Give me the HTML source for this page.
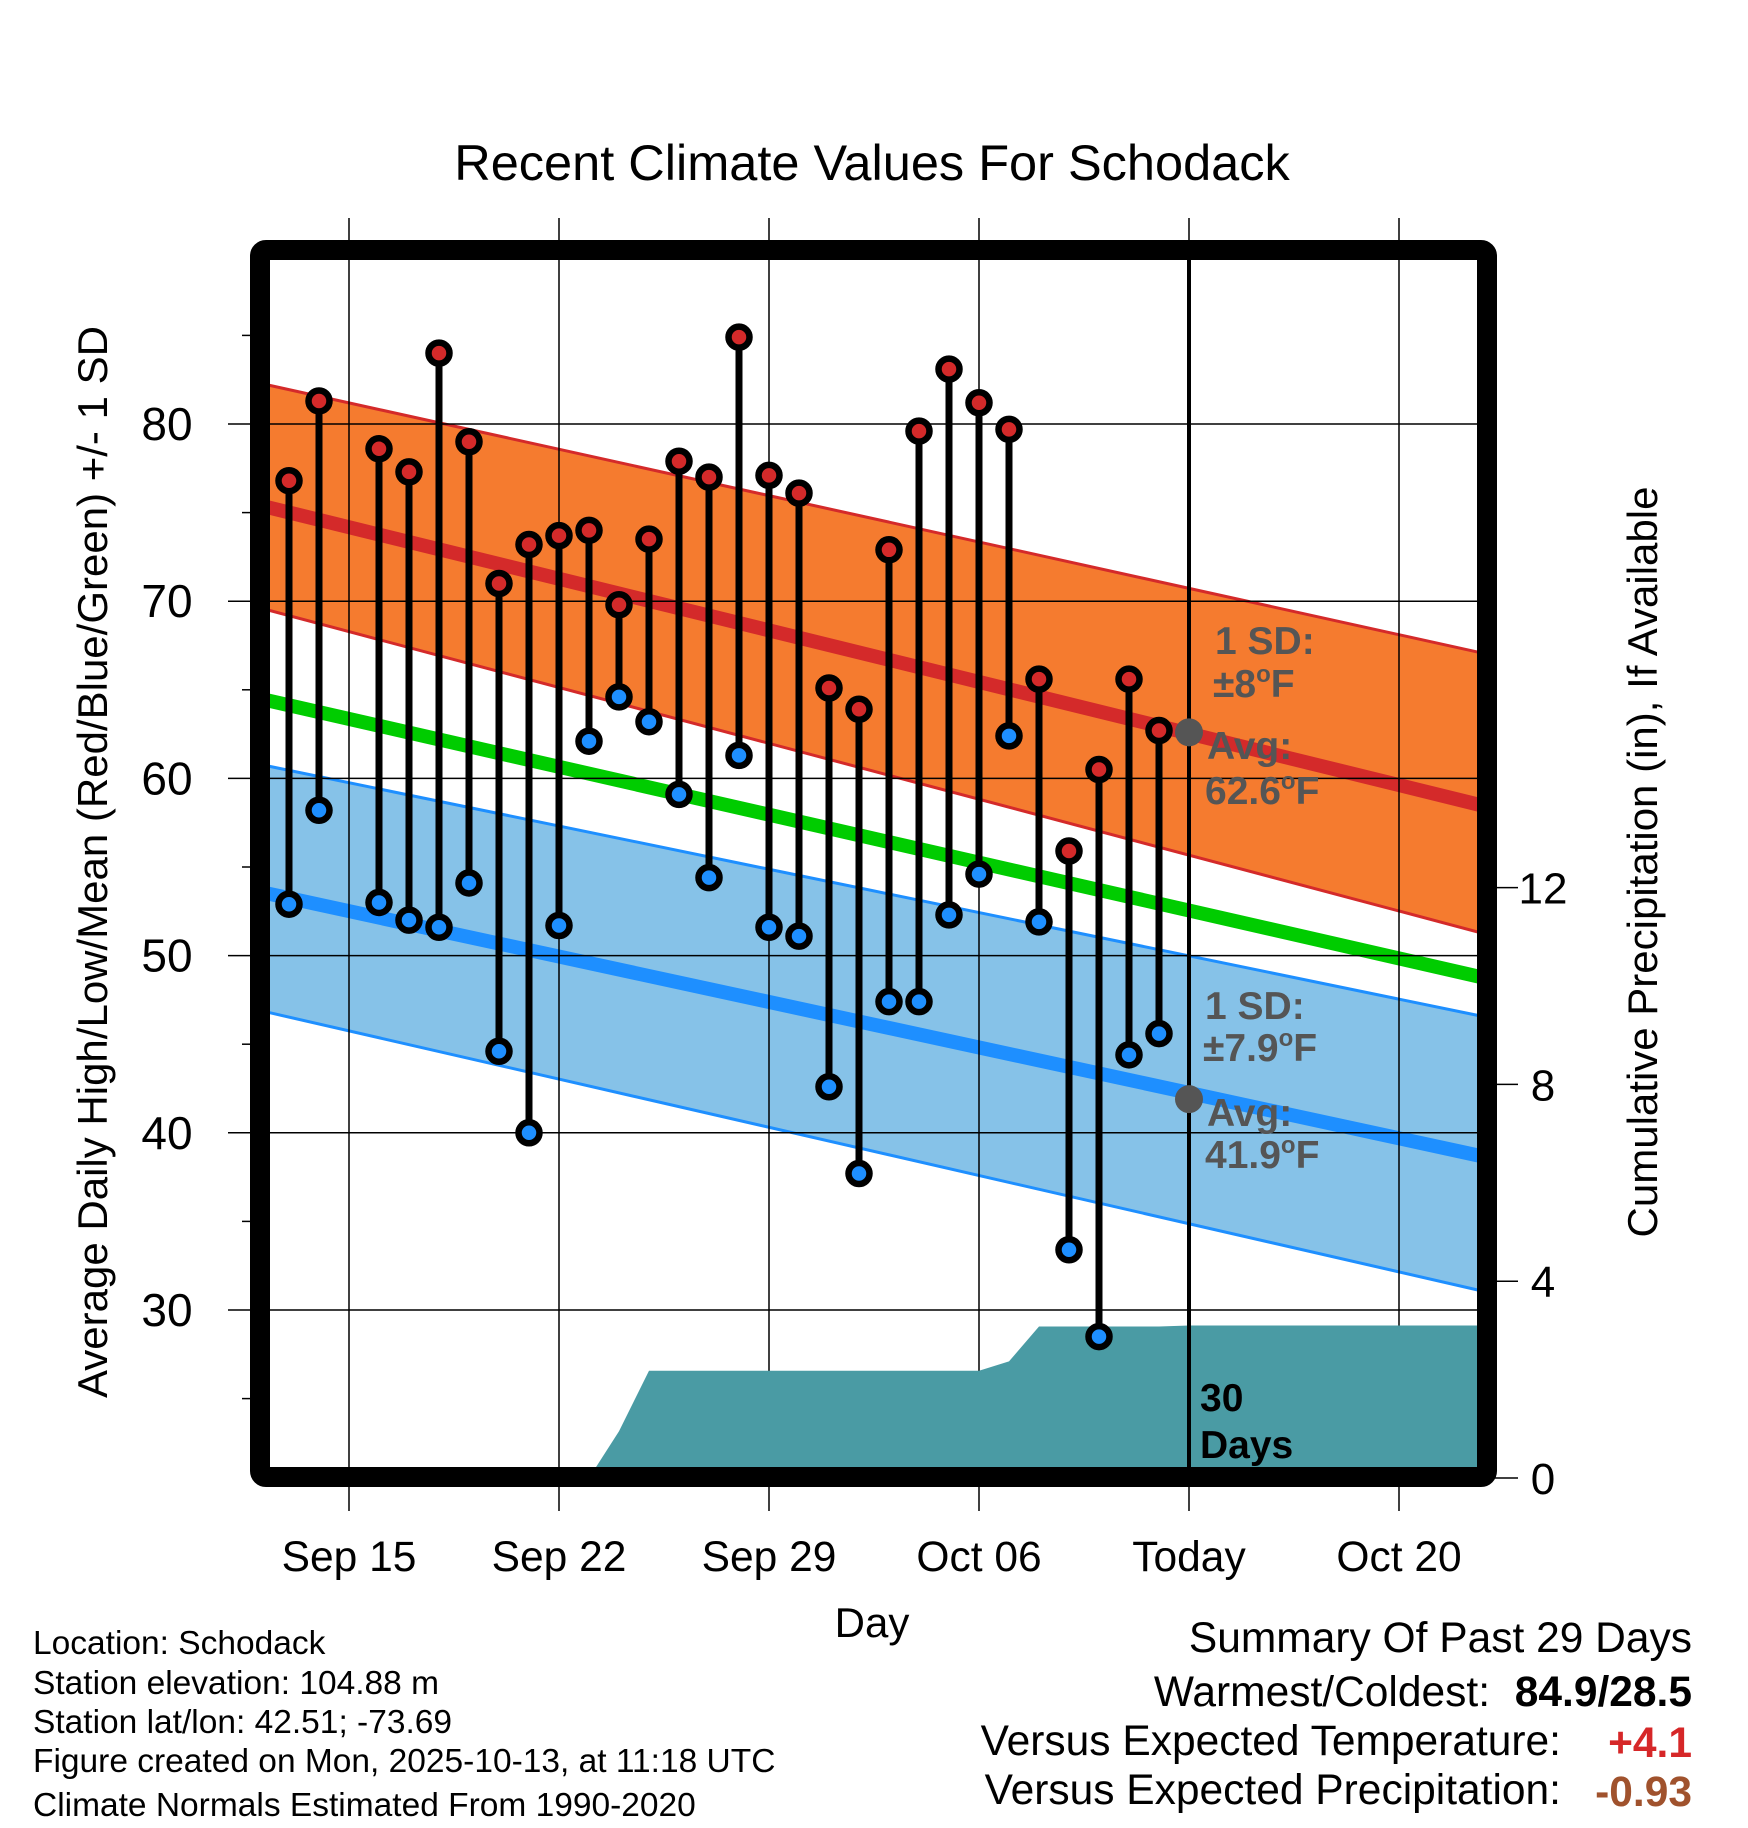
<!DOCTYPE html>
<html><head><meta charset="utf-8">
<style>
html,body{margin:0;padding:0;background:#fff;}
svg{display:block;font-family:"Liberation Sans",Arial,sans-serif;}
</style></head>
<body>
<svg id="chart" width="1748" height="1828" viewBox="0 0 1748 1828" xmlns="http://www.w3.org/2000/svg">
<defs><clipPath id="plotclip"><rect x="270" y="260" width="1208" height="1208"/></clipPath></defs>
<text x="872" y="180" font-size="50.5" text-anchor="middle">Recent Climate Values For Schodack</text>
<g id="bands" clip-path="url(#plotclip)"></g>
<g id="grid"></g>
<g id="precip" clip-path="url(#plotclip)"></g>
<g id="marks"></g>
<g id="annot" font-weight="bold" font-size="39" fill="#555">
  <text x="1215" y="654">1 SD:</text>
  <text x="1213" y="697">±8<tspan font-size="24" dy="-15">o</tspan><tspan dy="15">F</tspan></text>
  <text x="1207" y="759">Avg:</text>
  <text x="1205" y="804">62.6<tspan font-size="24" dy="-15">o</tspan><tspan dy="15">F</tspan></text>
  <text x="1205" y="1019">1 SD:</text>
  <text x="1203" y="1061">±7.9<tspan font-size="24" dy="-15">o</tspan><tspan dy="15">F</tspan></text>
  <text x="1207" y="1126">Avg:</text>
  <text x="1205" y="1168">41.9<tspan font-size="24" dy="-15">o</tspan><tspan dy="15">F</tspan></text>
  <text x="1200" y="1411" fill="#000">30</text>
  <text x="1200" y="1458" fill="#000">Days</text>
</g>
<rect x="260" y="250" width="1227" height="1227" rx="6" fill="none" stroke="#000" stroke-width="20"/>
<g id="axes"></g>
<text transform="translate(107,862) rotate(-90)" font-size="42" text-anchor="middle">Average Daily High/Low/Mean (Red/Blue/Green) +/- 1 SD</text>
<text transform="translate(1657,862) rotate(-90)" font-size="42" text-anchor="middle">Cumulative Precipitation (in), If Available</text>
<text x="872" y="1637" font-size="42" text-anchor="middle">Day</text>
<g font-size="33.5">
  <text x="33" y="1654">Location: Schodack</text>
  <text x="33" y="1694">Station elevation: 104.88 m</text>
  <text x="33" y="1733">Station lat/lon: 42.51; -73.69</text>
  <text x="33" y="1772">Figure created on Mon, 2025-10-13, at 11:18 UTC</text>
  <text x="33" y="1816">Climate Normals Estimated From 1990-2020</text>
</g>
<g font-size="42.5" text-anchor="end">
  <text x="1692" y="1652">Summary Of Past 29 Days</text>
  <text x="1490" y="1706">Warmest/Coldest:</text>
  <text x="1692" y="1706" font-weight="bold">84.9/28.5</text>
  <text x="1561" y="1755">Versus Expected Temperature:</text>
  <text x="1692" y="1757" font-weight="bold" fill="#d62728">+4.1</text>
  <text x="1561" y="1804">Versus Expected Precipitation:</text>
  <text x="1692" y="1806" font-weight="bold" fill="#a0522d">-0.93</text>
</g>
</svg>
<script>
// ---- data ----
const dayIndex = [0,1,3,4,5,6,7,8,9,10,11,12,13,14,15,16,17,18,19,20,21,22,23,24,25,26,27,28,29];
const highs = [76.8,81.3,78.6,77.3,84.0,79.0,71.0,73.2,73.7,74.0,69.8,73.5,77.9,77.0,84.9,77.1,76.1,65.1,63.9,72.9,79.6,83.1,81.2,79.7,65.6,55.9,60.5,65.6,62.7];
const lows  = [52.9,58.2,53.0,52.0,51.6,54.1,44.6,40.0,51.7,62.1,64.6,63.2,59.1,54.4,61.3,51.6,51.1,42.6,37.7,47.4,47.4,52.3,54.6,62.4,51.9,33.4,28.5,44.4,45.6];
const precipDays = [0,1,2,3,4,5,6,7,8,9,10,11,12,13,14,15,16,17,18,19,20,21,22,23,24,25,26,27,28,29,30,39.7];
const precipCum  = [0,0,0,0,0,0,0,0,0,0,0.0,0.95,2.18,2.18,2.18,2.18,2.18,2.18,2.18,2.18,2.18,2.18,2.18,2.18,2.37,3.08,3.08,3.08,3.08,3.08,3.1,3.1];
const normalDays = [-0.7, 39.7];
const normHigh = [75.3, 58.5];
const normHighUp = [82.2, 67.1];
const normHighLo = [69.5, 51.3];
const normMean = [64.4, 48.8];
const normLow = [53.5, 38.7];
const normLowUp = [60.7, 46.6];
const normLowLo = [46.8, 31.1];
const todayIndex = 30;
const todayHigh = 62.6, todayLow = 41.9;
const yTicks = [30,40,50,60,70,80];
const yMinor = [25,35,45,55,65,75,85];
const pTicks = [0,4,8,12];
const xTickDays = [2,9,16,23,30,37];
const xTickLabels = ["Sep 15","Sep 22","Sep 29","Oct 06","Today","Oct 20"];

// ---- scales ----
const X = d => 289 + d*30;
const Y = v => 424 + (80 - v)*17.72;
const P = p => 1478 - p*49.2;
const NS = "http://www.w3.org/2000/svg";
function mk(tag, attrs, parent){const e=document.createElementNS(NS,tag);for(const k in attrs)e.setAttribute(k,attrs[k]);parent.appendChild(e);return e;}

const bands=document.getElementById('bands'), grid=document.getElementById('grid'),
      precip=document.getElementById('precip'), marks=document.getElementById('marks'),
      axes=document.getElementById('axes');

function band(up, lo, fill, stroke, name){
  const pts = `${X(normalDays[0])},${Y(up[0])} ${X(normalDays[1])},${Y(up[1])} ${X(normalDays[1])},${Y(lo[1])} ${X(normalDays[0])},${Y(lo[0])}`;
  const p = mk('polygon',{points:pts,fill:fill},bands);
  
  
  [up,lo].forEach(a=>{
    const l=mk('line',{x1:X(normalDays[0]),y1:Y(a[0]),x2:X(normalDays[1]),y2:Y(a[1]),stroke:stroke,'stroke-width':3},bands);
    
    
  });
}
function nline(a, color, w, name){
  const l=mk('line',{x1:X(normalDays[0]),y1:Y(a[0]),x2:X(normalDays[1]),y2:Y(a[1]),stroke:color,'stroke-width':w},bands);
  
  
}
band(normHighUp, normHighLo, '#f57b2f', '#d42a2a', 'high-sd-band');
band(normLowUp, normLowLo, '#86c2e8', '#1e8fff', 'low-sd-band');
nline(normHigh, '#d42a2a', 14, 'normal-high-line');
nline(normMean, '#00cc00', 14, 'normal-mean-line');
nline(normLow, '#1e8fff', 14, 'normal-low-line');

// gridlines
yTicks.forEach(v=>{
  const l=mk('line',{x1:228,y1:Y(v),x2:1478,y2:Y(v),stroke:'#000','stroke-width':1.5},grid);
  
  
});
xTickDays.forEach(d=>{
  const l=mk('line',{x1:X(d),y1:218,x2:X(d),y2:1511,stroke:'#000','stroke-width':1.5},grid);
  
  
});

// precip area
let pd = `M${X(precipDays[0])},${P(0)}`;
precipDays.forEach((d,i)=>{pd += ` L${X(d)},${P(precipCum[i])}`;});
pd += ` L${X(precipDays[precipDays.length-1])},${P(0)} Z`;
const pa = mk('path',{d:pd,fill:'#4a9ba4'},precip);



// today line
const tl = mk('line',{x1:X(todayIndex),y1:260,x2:X(todayIndex),y2:1468,stroke:'#000','stroke-width':4},marks);


[todayHigh,todayLow].forEach(v=>{
  const c=mk('circle',{cx:X(todayIndex),cy:Y(v),r:14,fill:'#555'},marks);
  
  
});

// stems & points
dayIndex.forEach((d,i)=>{
  const s=mk('line',{x1:X(d),y1:Y(highs[i]),x2:X(d),y2:Y(lows[i]),stroke:'#000','stroke-width':7},marks);
  
  
});
dayIndex.forEach((d,i)=>{
  const h=mk('circle',{cx:X(d),cy:Y(highs[i]),r:10.5,fill:'#d42a2a',stroke:'#000','stroke-width':6.5},marks);
  
  
  const l=mk('circle',{cx:X(d),cy:Y(lows[i]),r:10.5,fill:'#1e8fff',stroke:'#000','stroke-width':6.5},marks);
  
  
});

// axes
yTicks.forEach(v=>{
  const t=mk('text',{x:167,y:Y(v)+16,'font-size':46,'text-anchor':'middle'},axes);
  t.textContent=v;
  
  
});
yMinor.forEach(v=>{
  const l=mk('line',{x1:242,y1:Y(v),x2:252,y2:Y(v),stroke:'#000','stroke-width':1.5},axes);
  
  
});
pTicks.forEach(p=>{
  const l=mk('line',{x1:1495,y1:P(p),x2:1518,y2:P(p),stroke:'#000','stroke-width':1.5},axes);
  
  
  const t=mk('text',{x:1543,y:P(p)+16,'font-size':44,'text-anchor':'middle'},axes);
  t.textContent=p;
  
  
});
xTickDays.forEach((d,i)=>{
  const t=mk('text',{x:X(d),y:1571,'font-size':42.5,'text-anchor':'middle'},axes);
  t.textContent=xTickLabels[i];
  
  
});
</script>
</body></html>
